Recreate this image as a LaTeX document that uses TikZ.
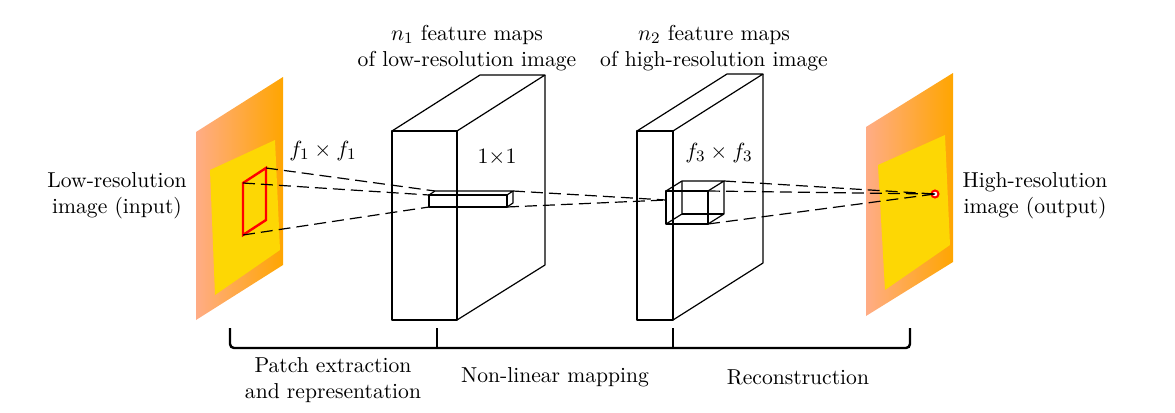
\documentclass[tikz,border=0pt]{standalone}
\begin{document}
\begin{tikzpicture}[x=0.5pt,y=-0.5pt,
  txt/.style={font=\fontsize{10.8}{13}\selectfont,align=center,inner sep=0},
  blk/.style={line width=1.3pt,line join=round},
  thin3d/.style={line width=0.6pt,line join=round},
  dl/.style={dashed,dash pattern=on 6pt off 3pt,line width=0.6pt},
  br/.style={line width=1.2pt,rounded corners=2pt}]
\useasboundingbox (0,0) rectangle (1175,413);
% left image
\shade[left color=pink!70!orange, right color=orange!70!yellow] (196,132) -- (283,77) -- (283,265) -- (196,320) -- cycle;
\fill[yellow!75!orange] (210,170) -- (275,140) -- (280,250) -- (215,295) -- cycle;
\draw[red,line width=1.2pt] (243,183) -- (266,168) -- (266,220) -- (243,235) -- cycle;
% right image
\shade[left color=pink!70!orange, right color=orange!70!yellow] (866,127) -- (953,73) -- (953,262) -- (866,316) -- cycle;
\fill[yellow!75!orange] (878,165) -- (945,135) -- (950,245) -- (885,290) -- cycle;
\draw[red,line width=1pt,fill=white] (935,194) circle (3.5);
% block 1
\draw[thin3d] (392,131) -- (480,75) -- (545,75) -- (457,131);
\draw[thin3d] (545,75) -- (545,265) -- (457,320);
\draw[blk] (392,131) rectangle (457,320);
% block 2
\draw[thin3d] (637,131) -- (727,74) -- (763,74) -- (673,131);
\draw[thin3d] (763,74) -- (763,263) -- (673,320);
\draw[blk] (637,131) rectangle (673,320);
% small box in block 1
\draw[thin3d] (429,195) rectangle (507,207);
\draw[thin3d] (429,195) -- (435,191) -- (513,191) -- (507,195);
\draw[thin3d] (513,191) -- (513,203) -- (507,207);
% cube in block 2
\draw[thin3d] (666,191) rectangle (708,224);
\draw[thin3d] (666,191) -- (682,181) -- (724,181) -- (708,191);
\draw[thin3d] (724,181) -- (724,214) -- (708,224);
\draw[thin3d] (682,181) -- (682,214) -- (666,224);
\draw[thin3d] (682,214) -- (724,214);
% dashed lines
\draw[dl] (266,168) -- (435,191);
\draw[dl] (243,183) -- (429,195);
\draw[dl] (243,235) -- (429,207);
\draw[dl] (513,191) -- (666,200);
\draw[dl] (507,207) -- (666,200);
\draw[dl] (724,181) -- (935,194);
\draw[dl] (708,191) -- (935,194);
\draw[dl] (708,224) -- (935,194);
% texts
\node[txt] at (467,48) {$n_1$ feature maps\\of low-resolution image};
\node[txt] at (714,48) {$n_2$ feature maps\\of high-resolution image};
\node[txt] at (323,151) {$f_1\times f_1$};
\node[txt] at (497,157) {$1{\times}1$};
\node[txt] at (719,153) {$f_3\times f_3$};
\node[txt] at (117,196) {Low-resolution\\image (input)};
\node[txt] at (1035,196) {High-resolution\\image (output)};
% brackets
\draw[br] (230,328) -- (230,348) -- (910,348) -- (910,328);
\draw[line width=1.2pt] (437,328) -- (437,348);
\draw[line width=1.2pt] (673,328) -- (673,348);
\node[txt] at (333,380) {Patch extraction\\and representation};
\node[txt] at (555,377) {Non-linear mapping};
\node[txt] at (798,377) {Reconstruction};
\end{tikzpicture}
\end{document}
